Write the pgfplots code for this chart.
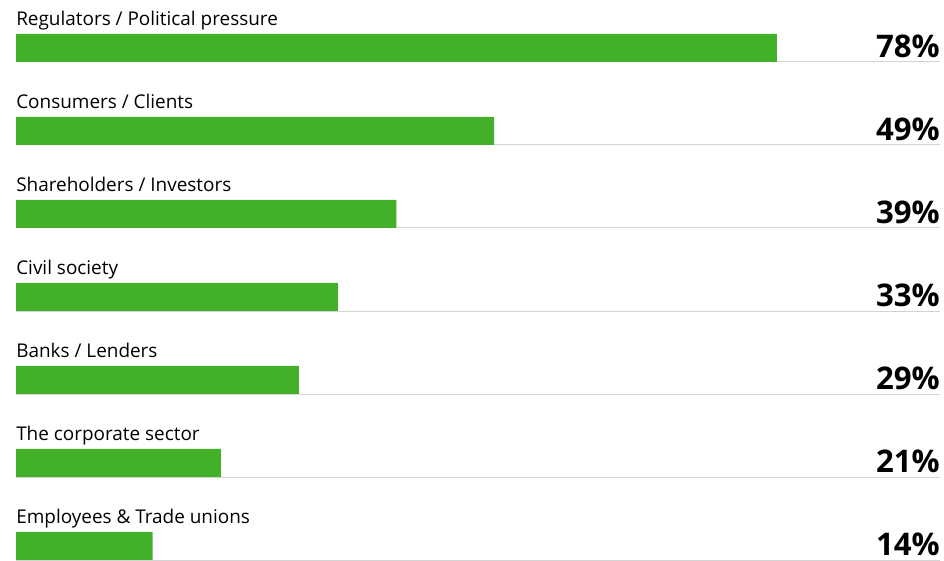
\documentclass[border=0pt]{standalone}
\usepackage{fontspec}
\setmainfont{Open Sans}
\usepackage{pgfplots}
\usepackage{pgfplotstable}
\pgfplotsset{compat=1.18}
\definecolor{barg}{HTML}{43B02A}
\definecolor{lineg}{HTML}{D3D3D3}
\tikzset{lbl/.style={anchor=base west, inner sep=0pt, text=black, font=\fontsize{14.2}{16}\selectfont}}
\pgfplotstableread{
y v
0 78
1 49
2 39
3 33
4 29
5 21
6 14
}\data
\begin{document}
\begin{tikzpicture}
\begin{axis}[scale only axis, width=708pt, height=420pt,
  xmin=-1.64, xmax=95.12, ymin=-6.169, ymax=0.578,
  axis lines=none, clip=false,
  /pgf/number format/assume math mode=true]
\path (rel axis cs:0,0) rectangle (rel axis cs:1,1);
\pgfplotsinvokeforeach{0,...,6}{
  \draw[lineg, line width=0.75pt] (axis cs:0,-#1-0.169) -- (axis cs:94.71,-#1-0.169);
}
\addplot[xbar, fill=barg, draw=none, bar width=0.337] table[x=v, y expr=-\thisrow{y}] {\data};
\addplot[draw=none, mark=none, point meta=explicit,
  nodes near coords={\pgfmathprintnumber{\pgfplotspointmeta}\%},
  every node near coord/.append style={anchor=base east, inner sep=0pt, text=black,
    font=\bfseries\fontsize{23.4}{26}\selectfont}]
  table[x expr=94.71, y expr=-\thisrow{y}-0.11, meta=v] {\data};
\node[lbl] at (axis cs:0,0.265) {Regulators / Political pressure};
\node[lbl] at (axis cs:0,-0.735) {Consumers / Clients};
\node[lbl] at (axis cs:0,-1.735) {Shareholders / Investors};
\node[lbl] at (axis cs:0,-2.735) {Civil society};
\node[lbl] at (axis cs:0,-3.735) {Banks / Lenders};
\node[lbl] at (axis cs:0,-4.735) {The corporate sector};
\node[lbl] at (axis cs:0,-5.735) {Employees \& Trade unions};
\end{axis}
\end{tikzpicture}
\end{document}
